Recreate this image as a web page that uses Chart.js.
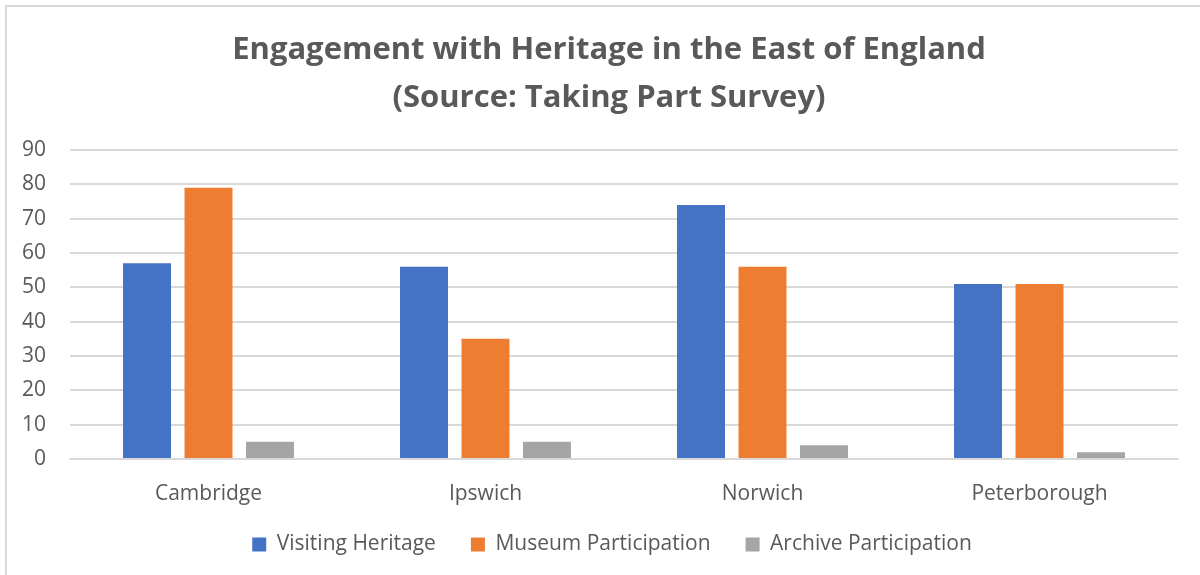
<!DOCTYPE html>
<html>
<head>
<meta charset="utf-8">
<script src="https://cdn.jsdelivr.net/npm/chart.js@4/dist/chart.umd.min.js"></script>
<style>
  html, body { margin: 0; padding: 0; background: #fff; overflow: hidden; }
  #frame { position: absolute; left: 5px; top: 5px; width: 1300px; height: 700px; border: 2px solid #d9d9d9; }
  #heritageChart { position: absolute; left: 0; top: 0; }
</style>
</head>
<body>
<div id="frame"></div>
<canvas id="heritageChart" width="1200" height="575"></canvas>
<script>
// data
var towns = ['Cambridge', 'Ipswich', 'Norwich', 'Peterborough'];
var visitingHeritage = [57, 56, 74, 51];
var museumParticipation = [79, 35, 56, 51];
var archiveParticipation = [5, 5, 4, 2];
var yTicks = [0, 10, 20, 30, 40, 50, 60, 70, 80, 90];

var textGrey = '#595959';
var font = "'Open Sans', 'Liberation Sans', sans-serif";

// title and legend sit a little right of the canvas centre in the original,
// and the legend sits closer to the axis labels than its padding allows
var nudgeBoxes = {
    id: 'nudgeBoxes',
    afterLayout: function(chart) {
        [chart.titleBlock, chart.legend].forEach(function(box) {
            if (box) { box.left += 20; box.right += 20; }
        });
        if (chart.legend) {
            chart.legend.left += 3; chart.legend.right += 3;
            chart.legend.top -= 22; chart.legend.bottom -= 22;
        }
    }
};

window.onload = function() {
    var ctx = document.getElementById('heritageChart').getContext('2d');
    var heritageChart = new Chart(ctx, {
        type: 'bar',
        data: {
            labels: towns,
            datasets: [{
                label: 'Visiting Heritage',
                data: visitingHeritage,
                backgroundColor: '#4472C4'
            }, {
                label: 'Museum Participation',
                data: museumParticipation,
                backgroundColor: '#ED7D31'
            }, {
                label: 'Archive Participation',
                data: archiveParticipation,
                backgroundColor: '#A5A5A5'
            }]
        },
        options: {
            responsive: false,
            animation: false,
            layout: { padding: { left: 0, right: 22, top: 0, bottom: -12 } },
            datasets: {
                bar: { categoryPercentage: 0.666, barPercentage: 0.78 }
            },
            plugins: {
                title: {
                    display: true,
                    text: ['Engagement with Heritage in the East of England', '(Source: Taking Part Survey)'],
                    color: textGrey,
                    font: { family: font, size: 31, weight: 'bold', lineHeight: 1.55 },
                    padding: { top: 26, bottom: 28 }
                },
                legend: {
                    position: 'bottom',
                    labels: {
                        color: textGrey,
                        font: { family: font, size: 21 },
                        boxWidth: 14,
                        boxHeight: 14,
                        padding: 35
                    }
                },
                tooltip: { enabled: false }
            },
            scales: {
                x: {
                    grid: { display: false },
                    border: { color: '#d9d9d9', width: 2 },
                    ticks: { color: textGrey, font: { family: font, size: 21 }, padding: 14 },
                    afterFit: function(scale) { scale.height = 62; }
                },
                y: {
                    min: 0,
                    max: 90,
                    afterBuildTicks: function(scale) {
                        scale.ticks = yTicks.map(function(v) { return { value: v }; });
                    },
                    grid: { color: '#d9d9d9', lineWidth: 2, drawTicks: false },
                    border: { display: false },
                    ticks: { color: textGrey, font: { family: font, size: 21 }, padding: 24 },
                    afterFit: function(scale) { scale.width = 70; }
                }
            }
        },
        plugins: [nudgeBoxes]
    });
};
</script>
</body>
</html>
